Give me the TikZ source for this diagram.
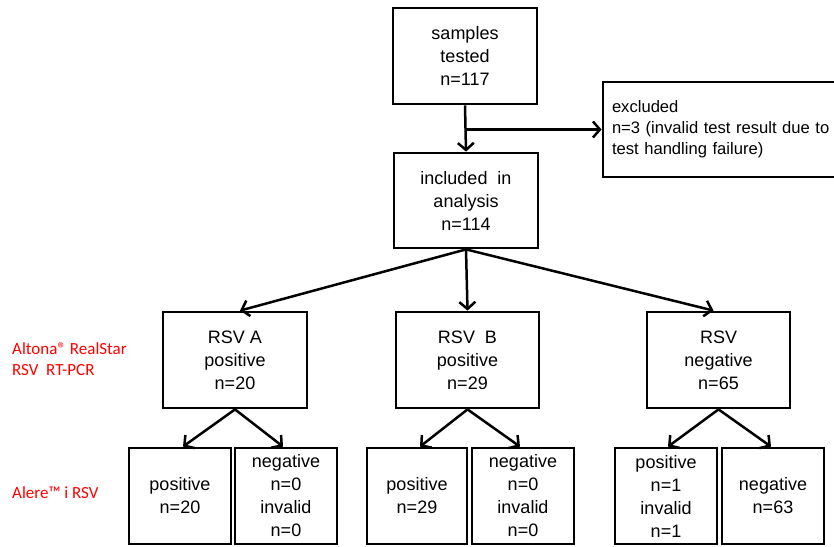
\documentclass[tikz,border=0pt]{standalone}
\usepackage{fontspec}
\setmainfont{Liberation Sans}
\newfontfamily\redfont{Carlito}
\usetikzlibrary{arrows.meta}
\begin{document}
\begin{tikzpicture}[x=1pt,y=-1pt,
  box/.style={draw, line width=2.8pt, align=center, inner sep=0pt,
    font=\fontsize{18}{23}\selectfont},
  arr/.style={line width=2.5pt, -{Straight Barb[length=7pt,width=16pt,line width=2.5pt]}},
  lbl/.style={text=red, align=left, anchor=west, inner sep=0pt,
    font=\redfont\fontsize{17}{21}\selectfont}]
\useasboundingbox (0,0) rectangle (834,546);
\clip (0,0) rectangle (834,546);
\node[box, minimum width=144pt, minimum height=96pt] (samp) at (465,56) {samples\\tested\\n=117};
\node[box, minimum width=144pt, minimum height=95pt] (incl) at (466,200.5) {included\ \ in\\analysis\\n=114};
\node[box, minimum width=248pt, minimum height=95pt, align=left, text width=230pt,
  font=\fontsize{16.6}{21}\selectfont] (excl) at (727,129.5) {excluded\\n=3 (invalid test result due to\\test handling failure)};
\node[box, minimum width=144pt, minimum height=96pt] (rsvA) at (235,360) {RSV A\\positive\\n=20};
\node[box, minimum width=143pt, minimum height=96pt] (rsvB) at (467.5,360) {RSV\ \ B\\positive\\n=29};
\node[box, minimum width=143pt, minimum height=96pt] (rsvN) at (718.5,360) {RSV\\negative\\n=65};
\node[box, minimum width=102pt, minimum height=96pt] (posA) at (180,496) {positive\\n=20};
\node[box, minimum width=102pt, minimum height=96pt] (negA) at (286,496) {negative\\n=0\\invalid\\n=0};
\node[box, minimum width=100pt, minimum height=96pt] (posB) at (417,496) {positive\\n=29};
\node[box, minimum width=102pt, minimum height=96pt] (negB) at (523,496) {negative\\n=0\\invalid\\n=0};
\node[box, minimum width=102pt, minimum height=96pt] (posN) at (666,496) {positive\\n=1\\invalid\\n=1};
\node[box, minimum width=102pt, minimum height=96pt] (negN) at (773,496) {negative\\n=63};
\node[lbl] (altona) at (12,359.5) {Altona® RealStar\\RSV\ \ RT-PCR};
\node[lbl] (alere) at (12,493) {Alere™ i RSV};
\coordinate (split) at (samp.south |- excl.west);
\draw[arr] (samp.south) -- (incl.north);
\draw[arr] (split) -- (excl.west);
\draw[arr] (incl.south) -- ([xshift=5pt]rsvA.north);
\draw[arr] (incl.south) -- (rsvB.north);
\draw[arr] (incl.south) -- ([xshift=-5pt]rsvN.north);
\draw[arr] (rsvA.south) -- ([xshift=3pt]posA.north);
\draw[arr] (rsvA.south) -- ([xshift=-3pt]negA.north);
\draw[arr] (rsvB.south) -- ([xshift=3pt]posB.north);
\draw[arr] (rsvB.south) -- ([xshift=-3pt]negB.north);
\draw[arr] (rsvN.south) -- ([xshift=2pt]posN.north);
\draw[arr] (rsvN.south) -- ([xshift=-2pt]negN.north);
\end{tikzpicture}
\end{document}
